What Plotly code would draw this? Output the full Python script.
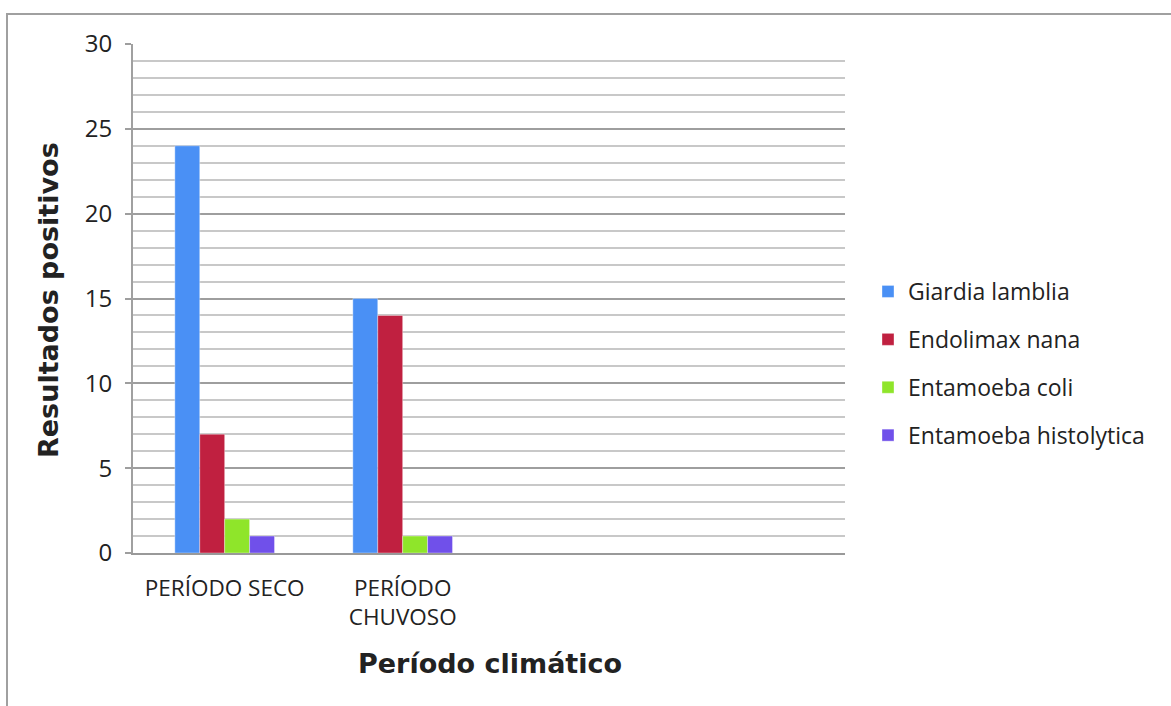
import plotly.graph_objects as go

categories = ["PERÍODO SECO", "PERÍODO<br>CHUVOSO"]
cat_pos = [0, 1]
series_names = ["Giardia lamblia", "Endolimax nana", "Entamoeba coli", "Entamoeba histolytica"]
giardia = [24, 15]
endolimax = [7, 14]
coli = [2, 1]
histolytica = [1, 1]
colors = ["#4A90F5", "#C02040", "#8FE52A", "#7050EA"]

W, H = 1171, 706
L, R, T, B = 133, 845, 44, 553
pw, ph = R - L, B - T

fig = go.Figure()
for i, (name, vals) in enumerate(zip(series_names, [giardia, endolimax, coli, histolytica])):
    fig.add_trace(go.Bar(
        x=cat_pos, y=vals, name=name, legendgroup=name,
        marker=dict(color=colors[i], line=dict(width=0.6, color="rgba(255,255,255,0.6)")),
    ))

fam = "Open Sans, Noto Sans, sans-serif"

fig.update_layout(
    width=W, height=H,
    margin=dict(l=L, r=W - R, t=T, b=H - B),
    paper_bgcolor="white", plot_bgcolor="white",
    barmode="group", bargap=0.44, bargroupgap=0,
    showlegend=True,
    legend=dict(
        x=(868 - L) / pw, xanchor="left",
        y=(B - 270) / ph, yanchor="top",
        font=dict(family=fam, size=23, color="#222"),
        tracegroupgap=15, bgcolor="rgba(0,0,0,0)",
    ),
    xaxis=dict(
        range=[-0.515, 3.485], tickmode="array", tickvals=cat_pos, ticktext=categories,
        showgrid=False, zeroline=False, showline=True, linecolor="#999999", linewidth=2,
        ticks="", tickfont=dict(family=fam, size=22.5, color="#222"),
        ticklabelstandoff=14, fixedrange=True,
    ),
    yaxis=dict(
        range=[0, 30], dtick=5, tick0=0,
        showgrid=True, gridcolor="#9e9e9e", gridwidth=2,
        zeroline=False, showline=True, linecolor="#a0a0a0", linewidth=2,
        ticks="outside", ticklen=6, tickcolor="#9e9e9e", tickwidth=2,
        tickfont=dict(family=fam, size=24, color="#222"),
        ticklabelstandoff=8,
        minor=dict(dtick=1, showgrid=True, gridcolor="#c8c8c8", gridwidth=2, ticks=""),
        fixedrange=True,
    ),
    annotations=[
        dict(text="<b>Resultados positivos</b>", xref="paper", yref="paper",
             x=(48 - L) / pw, y=(B - 300) / ph, xanchor="center", yanchor="middle",
             textangle=-90, showarrow=False,
             font=dict(family="DejaVu Sans, sans-serif", size=27, color="#222")),
        dict(text="<b>Período climático</b>", xref="paper", yref="paper",
             x=(490 - L) / pw, y=(B - 663) / ph, xanchor="center", yanchor="middle",
             showarrow=False,
             font=dict(family="DejaVu Sans, sans-serif", size=27, color="#222")),
    ],
    shapes=[
        dict(type="rect", xref="paper", yref="paper",
             x0=(7 - L) / pw, x1=(1200 - L) / pw, y0=(B - 720) / ph, y1=(B - 14) / ph,
             line=dict(color="#a0a0a0", width=2), fillcolor="rgba(0,0,0,0)", layer="below"),
    ],
)

fig.write_html("out.html")
